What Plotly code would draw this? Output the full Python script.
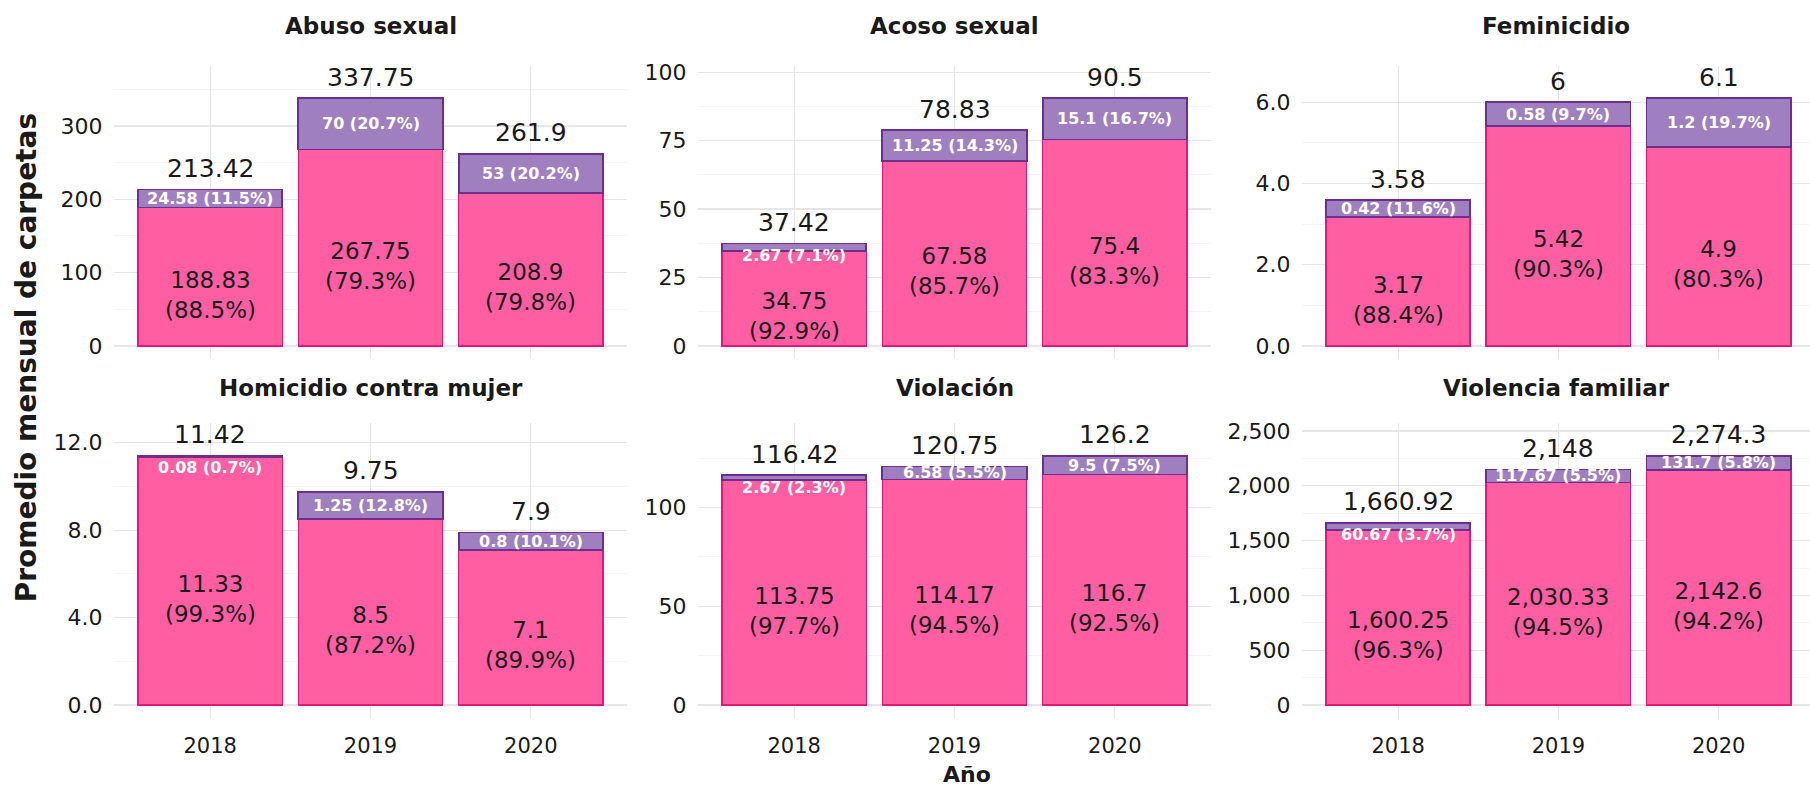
import plotly.graph_objects as go

# ---------------- data ----------------
categories = ["Abuso sexual", "Acoso sexual", "Feminicidio",
              "Homicidio contra mujer", "Violación", "Violencia familiar"]
years = ["2018", "2019", "2020"]

pink_values = [
    [188.83, 267.75, 208.9],
    [34.75, 67.58, 75.4],
    [3.17, 5.42, 4.9],
    [11.33, 8.5, 7.1],
    [113.75, 114.17, 116.7],
    [1600.25, 2030.33, 2142.6],
]
purple_values = [
    [24.58, 70, 53],
    [2.67, 11.25, 15.1],
    [0.42, 0.58, 1.2],
    [0.08, 1.25, 0.8],
    [2.67, 6.58, 9.5],
    [60.67, 117.67, 131.7],
]
totals = [
    [213.42, 337.75, 261.9],
    [37.42, 78.83, 90.5],
    [3.58, 6, 6.1],
    [11.42, 9.75, 7.9],
    [116.42, 120.75, 126.2],
    [1660.92, 2148, 2274.3],
]
pink_pct = [
    [88.5, 79.3, 79.8],
    [92.9, 85.7, 83.3],
    [88.4, 90.3, 80.3],
    [99.3, 87.2, 89.9],
    [97.7, 94.5, 92.5],
    [96.3, 94.5, 94.2],
]
purple_pct = [
    [11.5, 20.7, 20.2],
    [7.1, 14.3, 16.7],
    [11.6, 9.7, 19.7],
    [0.7, 12.8, 10.1],
    [2.3, 5.5, 7.5],
    [3.7, 5.5, 5.8],
]
ytick_vals = [
    [0, 100, 200, 300],
    [0, 25, 50, 75, 100],
    [0, 2, 4, 6],
    [0, 4, 8, 12],
    [0, 50, 100],
    [0, 500, 1000, 1500, 2000, 2500],
]
ytick_text = [
    ["0", "100", "200", "300"],
    ["0", "25", "50", "75", "100"],
    ["0.0", "2.0", "4.0", "6.0"],
    ["0.0", "4.0", "8.0", "12.0"],
    ["0", "50", "100"],
    ["0", "500", "1,000", "1,500", "2,000", "2,500"],
]
yminor_vals = [
    [50, 150, 250, 350],
    [12.5, 37.5, 62.5, 87.5],
    [1, 3, 5, 7],
    [2, 6, 10],
    [25, 75, 125],
    [250, 750, 1250, 1750, 2250],
]
y_title = "Promedio mensual de carpetas"
x_title = "Año"

# ---------------- style ----------------
W, H = 1810, 786
FONT = "DejaVu Sans"
PINK = "#FF5FA2"
PINK_LINE = "#E8157D"
PURPLE = "#A07FC0"
PURPLE_LINE = "#6C2E8F"
GRID = "#e6e6e6"
GRID_MINOR = "#f1f1f1"
TXT = "#1a1a1a"

col_px = [(114, 627), (698, 1211), (1302, 1810)]
col_rng = [(-0.6, 2.6), (-0.6, 2.6), (-0.6, 2.6 - 4.8 / 160.3)]
row_px = [(60, 356), (420, 718)]
strip_px = [20, 385]
LABEL_HEADROOM = 1.078   # space the total labels take above the bars


def fmt(v):
    return f"{v:,.2f}".rstrip("0").rstrip(".")


def pct(v):
    return f"{v:.1f}%"


fig = go.Figure()
annotations = []
layout_axes = {}

for i, cat in enumerate(categories):
    r, c = divmod(i, 3)
    k = i + 1
    xa = "x" if k == 1 else f"x{k}"
    ya = "y" if k == 1 else f"y{k}"
    xname = "xaxis" if k == 1 else f"xaxis{k}"
    yname = "yaxis" if k == 1 else f"yaxis{k}"

    pk = pink_values[i]
    pu = purple_values[i]
    tops = [a + b for a, b in zip(pk, pu)]
    dmax = max(tops) * LABEL_HEADROOM
    y0, y1 = -0.05 * dmax, 1.05 * dmax
    px0, px1 = row_px[r]
    ppu = (px1 - px0) / (y1 - y0)

    fig.add_trace(go.Bar(x=years, y=pk, xaxis=xa, yaxis=ya, width=0.9,
                         marker=dict(color=PINK, line=dict(color=PINK_LINE, width=1.6)),
                         showlegend=False, hoverinfo="skip"))
    fig.add_trace(go.Bar(x=years, y=pu, xaxis=xa, yaxis=ya, width=0.9,
                         marker=dict(color=PURPLE, line=dict(color=PURPLE_LINE, width=1.8)),
                         showlegend=False, hoverinfo="skip"))

    cx0, cx1 = col_px[c]
    layout_axes[xname] = dict(
        domain=[cx0 / W, cx1 / W], anchor=ya, type="category",
        categoryorder="array", categoryarray=years,
        range=list(col_rng[c]), showgrid=True, gridcolor=GRID, gridwidth=1.2,
        zeroline=False, showline=False, ticks="outside", ticklen=8,
        tickcolor="rgba(0,0,0,0)", showticklabels=(r == 1),
        tickfont=dict(family=FONT, size=21, color=TXT),
    )
    layout_axes[yname] = dict(
        domain=[1 - px1 / H, 1 - px0 / H], anchor=xa, range=[y0, y1],
        tickmode="array", tickvals=ytick_vals[i], ticktext=ytick_text[i],
        showgrid=True, gridcolor=GRID, gridwidth=1.2, zeroline=False,
        showline=False, ticks="outside", ticklen=6, tickcolor="rgba(0,0,0,0)",
        tickfont=dict(family=FONT, size=22, color=TXT),
        minor=dict(tickvals=yminor_vals[i], showgrid=True, gridcolor=GRID_MINOR,
                   gridwidth=0.8, ticks=""),
    )

    # facet title
    annotations.append(dict(
        xref="paper", yref="paper", x=(cx0 + cx1) / 2 / W,
        y=1 - strip_px[r] / H, text=f"<b>{cat}</b>",
        showarrow=False, xanchor="center", yanchor="middle",
        font=dict(family=FONT, size=23, color=TXT)))

    for j, yr in enumerate(years):
        # total label
        annotations.append(dict(
            xref=xa, yref=ya, x=j, y=tops[j], text=fmt(totals[i][j]),
            showarrow=False, yanchor="middle", yshift=21,
            font=dict(family=FONT, size=25, color=TXT)))
        # purple label
        seg_px = pu[j] * ppu
        if seg_px < 10:
            yy, ys = tops[j], -12
        else:
            yy, ys = pk[j] + pu[j] / 2, 0
        annotations.append(dict(
            xref=xa, yref=ya, x=j, y=yy, yshift=ys,
            text=f"<b>{fmt(pu[j])} ({pct(purple_pct[i][j])})</b>",
            showarrow=False, yanchor="middle",
            font=dict(family=FONT, size=16, color="white")))
        # pink label
        annotations.append(dict(
            xref=xa, yref=ya, x=j, y=pk[j] / 2, yshift=-18,
            text=f"{fmt(pk[j])}<br>({pct(pink_pct[i][j])})",
            showarrow=False, yanchor="middle",
            font=dict(family=FONT, size=23, color=TXT)))

annotations.append(dict(
    xref="paper", yref="paper", x=26 / W, y=1 - 355 / H, text=f"<b>{y_title}</b>",
    textangle=-90, showarrow=False, xanchor="center", yanchor="middle",
    font=dict(family=FONT, size=28, color=TXT)))
annotations.append(dict(
    xref="paper", yref="paper", x=967 / W, y=1 - 774 / H, text=f"<b>{x_title}</b>",
    showarrow=False, xanchor="center", yanchor="middle",
    font=dict(family=FONT, size=22, color=TXT)))

fig.update_layout(
    width=W, height=H, barmode="stack", bargap=0,
    margin=dict(l=0, r=0, t=0, b=0),
    paper_bgcolor="white", plot_bgcolor="white",
    font=dict(family=FONT, color=TXT),
    annotations=annotations,
    **layout_axes,
)

fig.write_html("out.html",
               config={"displayModeBar": False, "staticPlot": True},
               post_script="document.body.style.margin='0';document.body.style.overflow='hidden';")
